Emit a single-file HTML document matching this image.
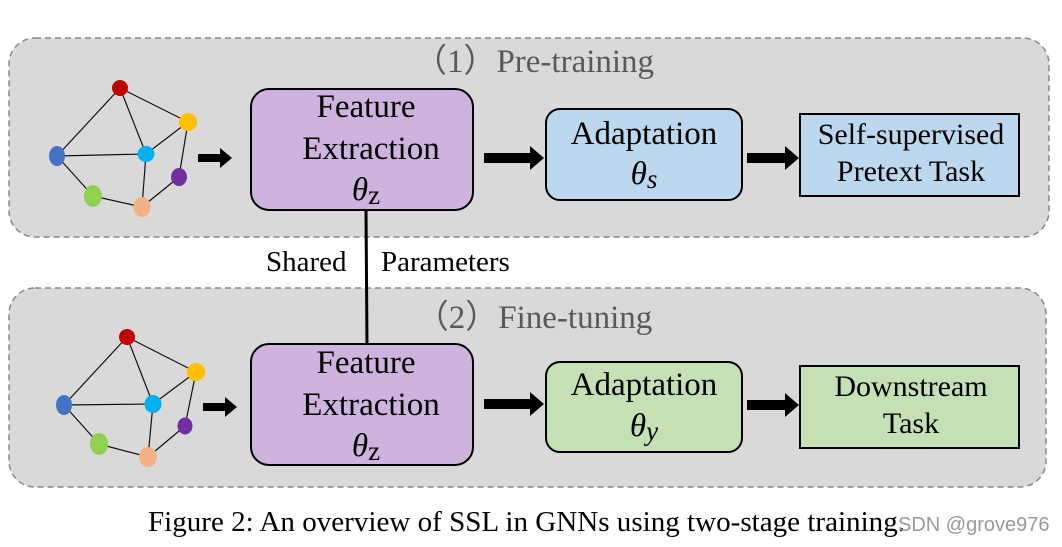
<!DOCTYPE html>
<html><head><meta charset="utf-8"><style>
html,body{margin:0;padding:0;background:#fff;}
svg{display:block;}
text{font-family:"Liberation Serif",serif;}
</style></head><body>
<svg width="1062" height="547" viewBox="0 0 1062 547" xmlns="http://www.w3.org/2000/svg">
<!-- panels -->
<rect x="9" y="38" width="1040" height="199" rx="26" fill="#d9d9d9" stroke="#888" stroke-width="1.5" stroke-dasharray="6,4"/>
<rect x="9" y="288" width="1037" height="199" rx="26" fill="#d9d9d9" stroke="#888" stroke-width="1.5" stroke-dasharray="6,4"/>
<text x="534" y="72" font-size="33" fill="#595959" text-anchor="middle">（1）Pre-training</text>
<text x="534" y="328" font-size="33" fill="#595959" text-anchor="middle">（2）Fine-tuning</text>

<!-- graph top -->
<g stroke="#111" stroke-width="1.2">
<line x1="120" y1="88" x2="188" y2="122"/><line x1="120" y1="88" x2="57" y2="156"/><line x1="120" y1="88" x2="146" y2="154"/>
<line x1="57" y1="156" x2="146" y2="154"/><line x1="146" y1="154" x2="188" y2="122"/><line x1="188" y1="122" x2="179" y2="177"/>
<line x1="57" y1="156" x2="93" y2="196"/><line x1="93" y1="196" x2="142" y2="207"/><line x1="146" y1="154" x2="142" y2="207"/><line x1="179" y1="177" x2="142" y2="207"/>
</g>
<ellipse cx="120" cy="88" rx="8" ry="8" fill="#c00000"/>
<ellipse cx="188" cy="122" rx="9" ry="9" fill="#ffc000"/>
<ellipse cx="57" cy="156" rx="8" ry="10" fill="#4472c4"/>
<ellipse cx="146" cy="154" rx="8.5" ry="8" fill="#00b0f0"/>
<ellipse cx="179" cy="177" rx="8" ry="9" fill="#7030a0"/>
<ellipse cx="93" cy="196" rx="9" ry="11" fill="#92d050"/>
<ellipse cx="142" cy="207" rx="8.5" ry="10" fill="#f4b183"/>

<!-- graph bottom -->
<g stroke="#111" stroke-width="1.2">
<line x1="127" y1="337" x2="196" y2="372"/><line x1="127" y1="337" x2="64" y2="405"/><line x1="127" y1="337" x2="153" y2="404"/>
<line x1="64" y1="405" x2="153" y2="404"/><line x1="153" y1="404" x2="196" y2="372"/><line x1="196" y1="372" x2="185" y2="426"/>
<line x1="64" y1="405" x2="99" y2="444"/><line x1="99" y1="444" x2="148" y2="457"/><line x1="153" y1="404" x2="148" y2="457"/><line x1="185" y1="426" x2="148" y2="457"/>
</g>
<ellipse cx="127" cy="337" rx="8" ry="8" fill="#c00000"/>
<ellipse cx="196" cy="372" rx="9" ry="9" fill="#ffc000"/>
<ellipse cx="64" cy="405" rx="8" ry="10" fill="#4472c4"/>
<ellipse cx="153" cy="404" rx="8.5" ry="9" fill="#00b0f0"/>
<ellipse cx="185" cy="426" rx="7.5" ry="8.5" fill="#7030a0"/>
<ellipse cx="99" cy="444" rx="9" ry="11" fill="#92d050"/>
<ellipse cx="148" cy="457" rx="9" ry="10" fill="#f4b183"/>

<!-- small arrows -->
<polygon points="198,154 220,154 220,148 232,158 220,168 220,162 198,162" fill="#000"/>
<polygon points="203,403 225,403 225,397 237,407 225,417 225,411 203,411" fill="#000"/>
<!-- big arrows -->
<polygon points="484,153 530,153 530,146 544,158 530,170 530,163 484,163" fill="#000"/>
<polygon points="747,153 785,153 785,146 799,158 785,170 785,163 747,163" fill="#000"/>
<polygon points="484,399 530,399 530,392 544,404 530,416 530,409 484,409" fill="#000"/>
<polygon points="747,400 785,400 785,393 799,405 785,417 785,410 747,410" fill="#000"/>

<!-- vertical link -->
<line x1="366" y1="210" x2="367" y2="345" stroke="#000" stroke-width="3"/>
<text x="266" y="271" font-size="29" fill="#000">Shared</text>
<text x="381" y="271" font-size="29" fill="#000">Parameters</text>

<!-- Feature boxes -->
<rect x="251" y="89" width="222" height="121" rx="18" fill="#cdb3de" stroke="#000" stroke-width="2"/>
<text x="366" y="117" font-size="33" text-anchor="middle">Feature</text>
<text x="371" y="159" font-size="33" text-anchor="middle">Extraction</text>
<text x="366" y="200" font-size="33" text-anchor="middle"><tspan font-style="italic">θ</tspan><tspan font-size="27" dy="4">z</tspan></text>

<rect x="251" y="344" width="222" height="121" rx="18" fill="#cdb3de" stroke="#000" stroke-width="2"/>
<text x="366" y="373" font-size="33" text-anchor="middle">Feature</text>
<text x="371" y="415" font-size="33" text-anchor="middle">Extraction</text>
<text x="366" y="456" font-size="33" text-anchor="middle"><tspan font-style="italic">θ</tspan><tspan font-size="27" dy="4">z</tspan></text>

<!-- Adaptation -->
<rect x="546" y="109" width="196" height="91" rx="14" fill="#bdd7ee" stroke="#000" stroke-width="2"/>
<text x="644" y="144" font-size="33" text-anchor="middle">Adaptation</text>
<text x="644" y="184" font-size="33" text-anchor="middle"><tspan font-style="italic">θ</tspan><tspan font-style="italic" font-size="27" dy="4">s</tspan></text>

<rect x="546" y="362" width="196" height="90" rx="14" fill="#c5e0b4" stroke="#000" stroke-width="2"/>
<text x="644" y="395" font-size="33" text-anchor="middle">Adaptation</text>
<text x="644" y="436" font-size="33" text-anchor="middle"><tspan font-style="italic">θ</tspan><tspan font-style="italic" font-size="27" dy="4">y</tspan></text>

<!-- Task boxes -->
<rect x="800" y="114" width="219" height="82" fill="#bdd7ee" stroke="#000" stroke-width="2"/>
<text x="911" y="144" font-size="30" text-anchor="middle">Self-supervised</text>
<text x="911" y="181" font-size="30" text-anchor="middle">Pretext Task</text>

<rect x="800" y="366" width="219" height="82" fill="#c5e0b4" stroke="#000" stroke-width="2"/>
<text x="911" y="396" font-size="30" text-anchor="middle">Downstream</text>
<text x="911" y="433" font-size="30" text-anchor="middle">Task</text>

<!-- caption -->
<text x="148" y="531" font-size="29" fill="#000" textLength="757" lengthAdjust="spacingAndGlyphs">Figure 2: An overview of SSL in GNNs using two-stage training.</text>
<text x="898" y="531" font-size="20" fill="#999" style="font-family:'Liberation Sans',sans-serif">SDN @grove976</text>
</svg>
</body></html>
